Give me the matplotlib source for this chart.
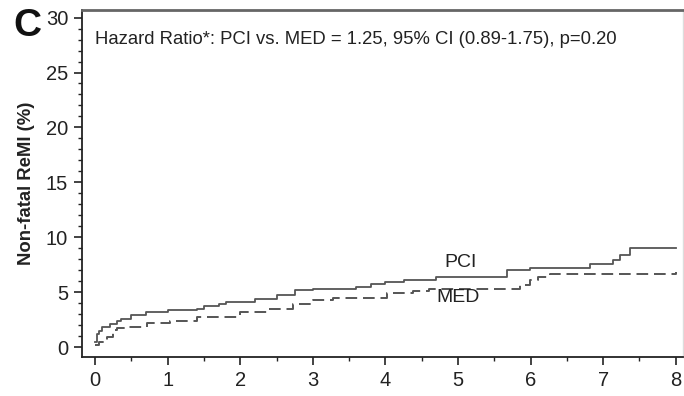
import matplotlib
matplotlib.use("Agg")
import matplotlib.pyplot as plt
from matplotlib.ticker import MultipleLocator

plt.rcParams['font.family'] = ['Liberation Sans', 'DejaVu Sans']

# Data
pci_t = [0, 0.02, 0.05, 0.1, 0.2, 0.3, 0.35, 0.5, 0.7, 1.0, 1.4, 1.5, 1.7, 1.8, 2.2, 2.5,
         2.75, 3.0, 3.6, 3.8, 4.0, 4.25, 4.7, 5.67, 5.99, 6.82, 7.14, 7.23, 7.37, 8.0]
pci_v = [0.5, 1.2, 1.5, 1.8, 2.1, 2.4, 2.6, 2.9, 3.2, 3.4, 3.5, 3.7, 3.9, 4.1, 4.4, 4.7,
         5.2, 5.3, 5.5, 5.7, 5.9, 6.1, 6.4, 7.0, 7.17, 7.57, 7.93, 8.4, 9.05, 9.05]
med_t = [0, 0.05, 0.16, 0.25, 0.3, 0.44, 0.71, 1.03, 1.4, 2.0, 2.37, 2.73, 3.0, 3.28,
         4.02, 4.38, 4.6, 5.85, 5.99, 6.1, 6.27, 8.0]
med_v = [0.2, 0.5, 0.94, 1.55, 1.7, 1.85, 2.15, 2.4, 2.76, 3.2, 3.5, 3.9, 4.3, 4.5,
         4.9, 5.1, 5.25, 5.65, 6.1, 6.35, 6.7, 6.8]
x_ticks = [0, 1, 2, 3, 4, 5, 6, 7, 8]
y_ticks = [0, 5, 10, 15, 20, 25, 30]
annotation = "Hazard Ratio*: PCI vs. MED = 1.25, 95% CI (0.89-1.75), p=0.20"

fig = plt.figure(figsize=(6.84, 3.96), dpi=100)
ax = fig.add_axes([0.12, 0.0985, 0.8785, 0.8765])

col = '#555555'
ax.step(pci_t, pci_v, where='post', color=col, lw=1.3)
ax.step(med_t, med_v, where='post', color=col, lw=1.4, linestyle=(0, (6, 3)))

ax.set_xlim(-0.18, 8.1)
ax.set_ylim(-0.9, 30.7)
ax.set_xticks(x_ticks)
ax.set_yticks(y_ticks)
ax.xaxis.set_minor_locator(MultipleLocator(0.5))
ax.yaxis.set_minor_locator(MultipleLocator(1))
ax.tick_params(axis='both', which='major', direction='out', length=6, width=1.2,
               labelsize=14.5, colors='#222222', pad=4)
ax.tick_params(axis='both', which='minor', direction='out', length=3, width=1.0, colors='#222222')

for s in ['left', 'bottom']:
    ax.spines[s].set_color('#222222')
    ax.spines[s].set_linewidth(1.3)
ax.spines['top'].set_color('#666666')
ax.spines['top'].set_linewidth(2)
ax.spines['right'].set_color('#dddddd')
ax.spines['right'].set_linewidth(1)

ax.set_ylabel('Non-fatal ReMI (%)', fontsize=13.3, fontweight='bold', color='#222222', labelpad=8)

ax.text(0.0, 28.0, annotation, fontsize=13.3, color='#222222', va='center', ha='left')
ax.text(5.03, 7.66, 'PCI', fontsize=14, color='#222222', va='center', ha='center')
ax.text(5.0, 4.56, 'MED', fontsize=14, color='#222222', va='center', ha='center')

fig.text(0.02, 0.935, 'C', fontsize=28, fontweight='bold', color='#111111', va='center', ha='left')

fig.savefig('out.png', dpi=100)
